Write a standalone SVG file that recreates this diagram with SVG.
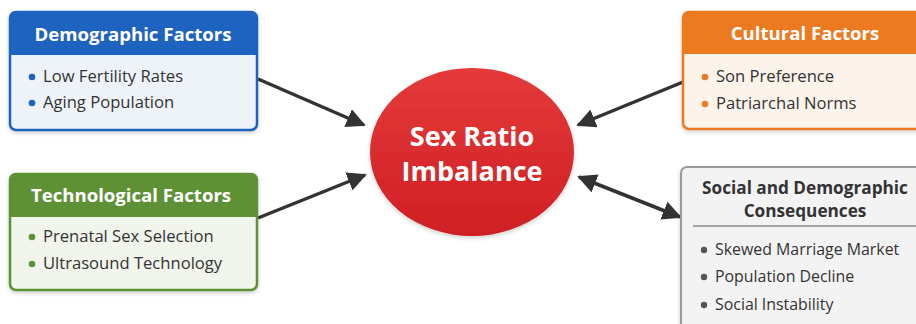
<svg xmlns="http://www.w3.org/2000/svg" width="916" height="324" viewBox="0 0 916 324">
<defs>
<marker id="ah" viewBox="0 0 10 10" refX="9" refY="5" markerWidth="5.5" markerHeight="5.5" orient="auto-start-reverse" markerUnits="strokeWidth">
<path d="M0,0 L10,5 L0,10 Z" fill="#333"/>
</marker>
<linearGradient id="rg" x1="0" y1="0" x2="0" y2="1">
<stop offset="0" stop-color="#e53a3a"/>
<stop offset="1" stop-color="#cf1f24"/>
</linearGradient>
<filter id="sh" x="-10%" y="-10%" width="120%" height="130%">
<feDropShadow dx="0" dy="2" stdDeviation="2" flood-color="#000" flood-opacity="0.18"/>
</filter>
</defs>
<style>
text{font-family:"Open Sans","Noto Sans","Liberation Sans",sans-serif;}
.ti{font-size:18.6px;font-weight:700;fill:#fff;text-anchor:middle;}
.tc{font-size:17.2px;font-weight:700;fill:#333;text-anchor:middle;}
.it{font-size:16.6px;fill:#333;}
.it2{font-size:15.9px;fill:#333;}
.con{stroke:#333;stroke-width:3.5;fill:none;}
</style>
<rect width="916" height="324" fill="#fff"/>
<g id="connectors">
<line class="con" x1="258" y1="79" x2="364" y2="125" marker-end="url(#ah)"/>
<line class="con" x1="258" y1="218" x2="365" y2="175" marker-end="url(#ah)"/>
<line class="con" x1="683" y1="82" x2="578" y2="125" marker-end="url(#ah)"/>
<line class="con" x1="579" y1="177" x2="680" y2="217" marker-start="url(#ah)" marker-end="url(#ah)"/>
</g>
<g id="demographic">
<rect x="10" y="12" width="247" height="118" rx="6" fill="#eef3fa" stroke="#1f63c0" stroke-width="2.5" filter="url(#sh)"/>
<path d="M10,55 V18 a6,6 0 0 1 6,-6 H251 a6,6 0 0 1 6,6 V55 Z" fill="#1f63c0"/>
<text class="ti" x="133" y="41">Demographic Factors</text>
<circle cx="32" cy="77" r="3.3" fill="#1f63c0"/>
<text class="it" x="43" y="82">Low Fertility Rates</text>
<circle cx="32" cy="103" r="3.3" fill="#1f63c0"/>
<text class="it" x="43" y="108">Aging Population</text>
</g>
<g id="technological">
<rect x="10" y="174" width="247" height="116" rx="6" fill="#f1f5ec" stroke="#5e9135" stroke-width="2.5" filter="url(#sh)"/>
<path d="M10,217 V180 a6,6 0 0 1 6,-6 H251 a6,6 0 0 1 6,6 V217 Z" fill="#5e9135"/>
<text class="ti" x="131" y="202">Technological Factors</text>
<circle cx="32" cy="237" r="3.3" fill="#5e9135"/>
<text class="it" x="43" y="242">Prenatal Sex Selection</text>
<circle cx="32" cy="264" r="3.3" fill="#5e9135"/>
<text class="it" x="43" y="269">Ultrasound Technology</text>
</g>
<g id="cultural">
<rect x="683" y="12" width="245" height="117" rx="6" fill="#fcf3ea" stroke="#ec7a20" stroke-width="2.5" filter="url(#sh)"/>
<path d="M683,54 V18 a6,6 0 0 1 6,-6 H928 V54 Z" fill="#ec7a20"/>
<text class="ti" x="805" y="40">Cultural Factors</text>
<circle cx="705" cy="77" r="3.3" fill="#ec7a20"/>
<text class="it" x="716" y="82">Son Preference</text>
<circle cx="705" cy="104" r="3.3" fill="#ec7a20"/>
<text class="it" x="716" y="109">Patriarchal Norms</text>
</g>
<g id="consequences">
<rect x="681" y="167" width="247" height="170" rx="6" fill="#f3f3f3" stroke="#9a9a9a" stroke-width="2" filter="url(#sh)"/>
<text class="tc" x="805" y="194">Social and Demographic</text>
<text class="tc" x="805" y="217">Consequences</text>
<line x1="693" y1="226" x2="916" y2="226" stroke="#8a8a8a" stroke-width="1.5"/>
<circle cx="704" cy="250" r="3.2" fill="#555"/>
<text class="it2" x="715" y="255">Skewed Marriage Market</text>
<circle cx="704" cy="277" r="3.2" fill="#555"/>
<text class="it2" x="715" y="282">Population Decline</text>
<circle cx="704" cy="305" r="3.2" fill="#555"/>
<text class="it2" x="715" y="310">Social Instability</text>
</g>
<g id="center">
<ellipse cx="472" cy="152" rx="102" ry="84" fill="url(#rg)" filter="url(#sh)"/>
<text x="472" y="146" font-size="27" font-weight="700" fill="#fff" text-anchor="middle">Sex Ratio</text>
<text x="472" y="181" font-size="27" font-weight="700" fill="#fff" text-anchor="middle">Imbalance</text>
</g>
</svg>
